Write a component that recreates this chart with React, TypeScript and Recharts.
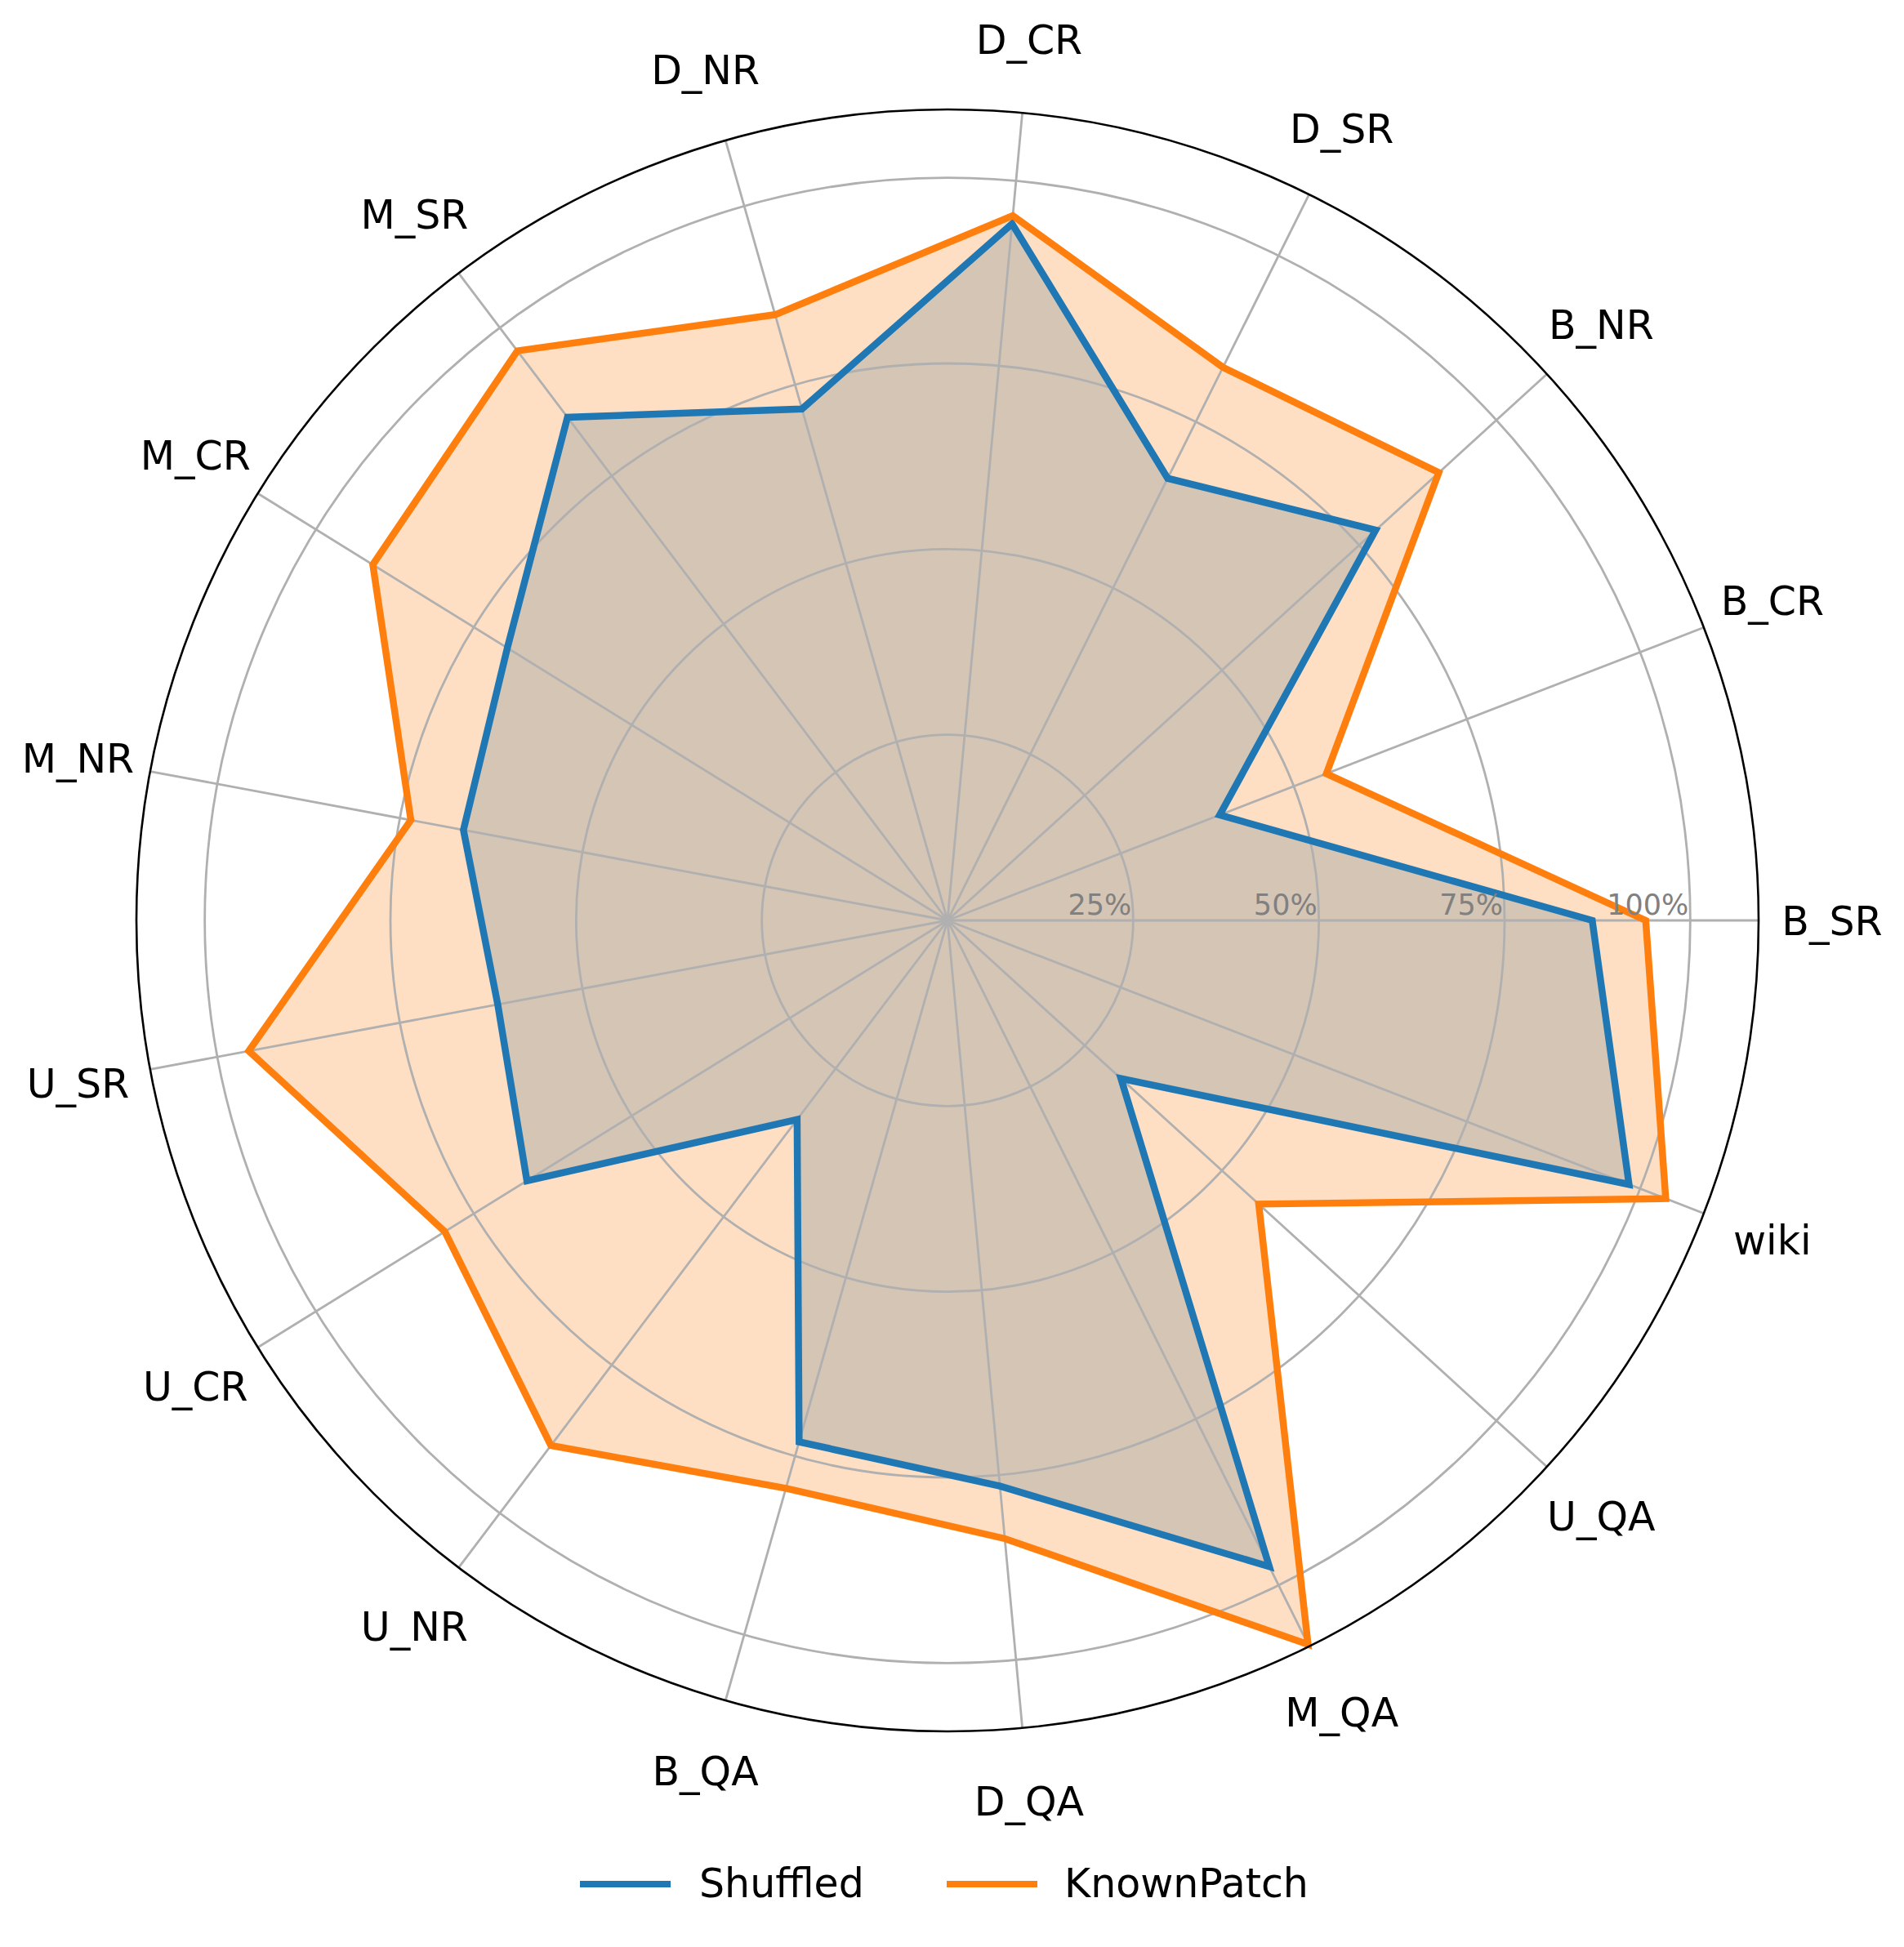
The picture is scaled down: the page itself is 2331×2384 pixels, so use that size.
import React from 'react';
import { RadarChart, Radar, PolarGrid, PolarAngleAxis, PolarRadiusAxis, Legend } from 'recharts';

const categories = ['B_SR', 'B_CR', 'B_NR', 'D_SR', 'D_CR', 'D_NR', 'M_SR', 'M_CR', 'M_NR', 'U_SR', 'U_CR', 'U_NR', 'B_QA', 'D_QA', 'M_QA', 'U_QA', 'wiki'];
const shuffled = [86.8, 39.3, 78.0, 66.5, 94.2, 71.6, 84.9, 69.7, 66.3, 61.6, 66.6, 33.6, 73.0, 76.5, 97.2, 31.6, 98.4];
const knownPatch = [94.0, 54.7, 89.5, 83.2, 95.3, 84.8, 96.1, 91.0, 73.5, 95.7, 79.6, 88.6, 79.5, 83.6, 108.9, 56.7, 103.7];
const radiusTicks = [25, 50, 75, 100];
const radiusTickLabels = ['25%', '50%', '75%', '100%'];
const seriesNames = ['Shuffled', 'KnownPatch'];
const seriesColors = ['#1f77b4', '#ff7f0e'];
const radiusMax = 109.2;

const categoryIndices = categories.map((_, i) => i);
const data = categories.map((c, i) => ({ idx: i, category: c, shuffled: shuffled[i], knownPatch: knownPatch[i] }));

const W = 2331;
const H = 2384;
const CX = 1160;
const CY = 1127;
const R = 993;
const LABEL_R = 1083;
const FONT = '"DejaVu Sans", Verdana, sans-serif';

function AngleTick(props: any) {
  const { x, y, payload } = props;
  const dx = x - CX;
  const dy = y - CY;
  const len = Math.sqrt(dx * dx + dy * dy) || 1;
  const tx = CX + (dx / len) * LABEL_R;
  const ty = CY + (dy / len) * LABEL_R;
  const label = categories[Math.round(payload.value)] ?? '';
  return (
    <text x={tx} y={ty} dy="0.36em" textAnchor="middle" fontSize={49} fill="#000" fontFamily={FONT}>
      {label}
    </text>
  );
}

function RadiusTick(props: any) {
  const { x, y, payload } = props;
  const idx = radiusTicks.indexOf(payload.value);
  if (idx < 0) return <g />;
  return (
    <text x={x - 2} y={y - 7} textAnchor="end" fontSize={35} fill="#808080" fontFamily={FONT}>
      {radiusTickLabels[idx]}
    </text>
  );
}

function LegendContent() {
  const items = [
    { lineLeft: 710, textLeft: 856 },
    { lineLeft: 1159, textLeft: 1303 },
  ];
  return (
    <div style={{ position: 'relative', width: W, height: 80, fontFamily: FONT }}>
      {items.map((it, i) => (
        <React.Fragment key={seriesNames[i]}>
          <div style={{ position: 'absolute', left: it.lineLeft, top: 36, width: 111, height: 8, background: seriesColors[i] }} />
          <div style={{ position: 'absolute', left: it.textLeft, top: 0, height: 80, lineHeight: '80px', fontSize: 49, color: '#000', whiteSpace: 'nowrap' }}>
            {seriesNames[i]}
          </div>
        </React.Fragment>
      ))}
    </div>
  );
}

const chartProps = {
  width: W,
  height: H,
  data,
  cx: CX,
  cy: CY,
  outerRadius: R,
  startAngle: 0,
  endAngle: 360,
  margin: { top: 0, right: 0, bottom: 0, left: 0 },
};

export default function App() {
  return (
    <div style={{ position: 'absolute', left: 0, top: 0, width: W, height: H, background: '#fff' }}>
      {/* bottom layer: filled areas */}
      <div style={{ position: 'absolute', left: 0, top: 0 }}>
        <RadarChart {...chartProps}>
          <PolarRadiusAxis angle={0} type="number" domain={[0, radiusMax]} ticks={radiusTicks} axisLine={false} tickLine={false} tick={false} />
          <PolarAngleAxis dataKey="idx" type="number" domain={[0, categories.length]} ticks={categoryIndices} tick={false} tickLine={false} axisLine={false} />
          <Radar dataKey="shuffled" stroke="none" fill={seriesColors[0]} fillOpacity={0.25} isAnimationActive={false} legendType="none" />
          <Radar dataKey="knownPatch" stroke="none" fill={seriesColors[1]} fillOpacity={0.25} isAnimationActive={false} legendType="none" />
        </RadarChart>
      </div>
      {/* top layer: grid, axes, lines, legend */}
      <div style={{ position: 'absolute', left: 0, top: 0 }}>
        <RadarChart {...chartProps}>
          <PolarGrid gridType="circle" stroke="#b0b0b0" strokeWidth={2.8} />
          <PolarRadiusAxis
            angle={0}
            type="number"
            domain={[0, radiusMax]}
            ticks={radiusTicks}
            axisLine={false}
            tickLine={false}
            tick={<RadiusTick />}
          />
          <PolarAngleAxis
            dataKey="idx"
            type="number"
            domain={[0, categories.length]}
            ticks={categoryIndices}
            tick={<AngleTick />}
            tickLine={false}
            axisLineType="circle"
            axisLine={{ stroke: '#000', strokeWidth: 2.6 }}
          />
          <Radar
            name={seriesNames[0]}
            dataKey="shuffled"
            stroke={seriesColors[0]}
            strokeWidth={8.5}
            fill="none"
            fillOpacity={0}
            isAnimationActive={false}
          />
          <Radar
            name={seriesNames[1]}
            dataKey="knownPatch"
            stroke={seriesColors[1]}
            strokeWidth={8.5}
            fill="none"
            fillOpacity={0}
            isAnimationActive={false}
          />
          <Legend content={<LegendContent />} wrapperStyle={{ position: 'absolute', left: 0, top: 2267, width: W, height: 80 }} />
        </RadarChart>
      </div>
    </div>
  );
}
